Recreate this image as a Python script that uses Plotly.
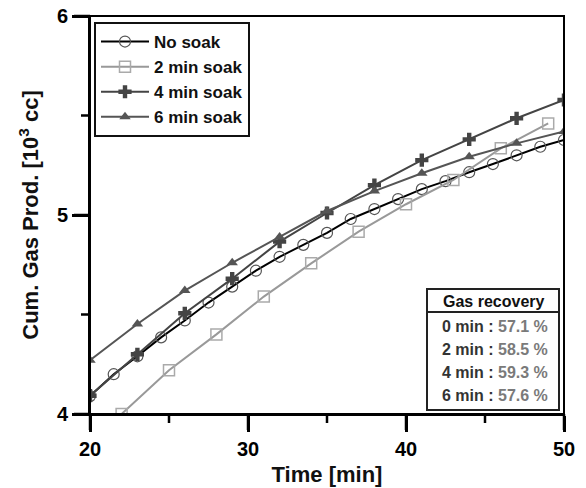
import plotly.graph_objects as go

# Cumulative gas production [10^3 cc] versus time [min]
t_no_soak = [20, 21.5, 23, 24.5, 26, 27.5, 29, 30.5, 32, 33.5, 35, 36.5, 38, 39.5,
             41, 42.5, 44, 45.5, 47, 48.5, 50]
g_no_soak = [4.09, 4.20, 4.29, 4.385, 4.47, 4.56, 4.64, 4.72, 4.79, 4.85, 4.91, 4.98,
             5.03, 5.08, 5.13, 5.17, 5.215, 5.256, 5.30, 5.343, 5.377]

t_2min = [22, 25, 28, 31, 34, 37, 40, 43, 46, 49]
g_2min = [4.00, 4.22, 4.40, 4.59, 4.757, 4.916, 5.054, 5.176, 5.335, 5.46]

t_4min = [20, 23, 26, 29, 32, 35, 38, 41, 44, 47, 50]
g_4min = [4.092, 4.30, 4.506, 4.68, 4.866, 5.01, 5.15, 5.276, 5.38, 5.486, 5.578]

t_6min = [20, 23, 26, 29, 32, 35, 38, 41, 44, 47, 50]
g_6min = [4.27, 4.452, 4.62, 4.76, 4.89, 5.02, 5.12, 5.21, 5.293, 5.36, 5.42]

# Gas recovery summary
recovery_labels = ["0 min", "2 min", "4 min", "6 min"]
recovery_pct = [57.1, 58.5, 59.3, 57.6]

# Axis ticks
x_range = [20, 50]
y_range = [4, 6]
x_major = [20, 30, 40, 50]
x_minor = [25, 35, 45]
y_major = [4, 5, 6]
y_minor = [4.5, 5.5]

FONT = "Liberation Sans, Arial, sans-serif"

# plot area in pixels: x 90..564, y 16..414
PW, PH = 474.0, 398.0
MAJOR_LEN, MINOR_LEN = 16, 9
TICK_W = 2.5

fig = go.Figure()

fig.add_trace(go.Scatter(
    x=t_no_soak, y=g_no_soak, name="No soak", mode="lines+markers",
    line=dict(color="#000000", width=2),
    marker=dict(symbol="circle-open", size=11, color="#555555", line=dict(width=1.2)),
    legendgroup="a"))
fig.add_trace(go.Scatter(
    x=t_2min, y=g_2min, name="2 min soak", mode="lines+markers",
    line=dict(color="#999999", width=2),
    marker=dict(symbol="square-open", size=11, color="#aaaaaa", line=dict(width=1.5)),
    legendgroup="b"))
fig.add_trace(go.Scatter(
    x=t_4min, y=g_4min, name="4 min soak", mode="lines+markers",
    line=dict(color="#444444", width=2),
    marker=dict(symbol="cross", size=11, color="#444444"),
    legendgroup="c"))
fig.add_trace(go.Scatter(
    x=t_6min, y=g_6min, name="6 min soak", mode="lines+markers",
    line=dict(color="#555555", width=2),
    marker=dict(symbol="triangle-up", size=10, color="#555555"),
    legendgroup="d"))

def px(x):
    return (x - 90) / PW

def py(y):
    return (414 - y) / PH

def fx(v):
    return (v - x_range[0]) / (x_range[1] - x_range[0])

def fy(v):
    return (v - y_range[0]) / (y_range[1] - y_range[0])

shapes = [
    # frame around the plot area
    dict(type="rect", xref="paper", yref="paper", x0=0, x1=1, y0=0, y1=1,
         line=dict(color="black", width=2), layer="above"),
]

# outward tick marks on the bottom and left axes
tick_line = dict(color="black", width=TICK_W)
for v, ln in [(v, MAJOR_LEN) for v in x_major] + [(v, MINOR_LEN) for v in x_minor]:
    shapes.append(dict(type="line", xref="paper", yref="paper",
                       x0=fx(v), x1=fx(v), y0=0, y1=-ln / PH, line=tick_line))
for v, ln in [(v, MAJOR_LEN) for v in y_major] + [(v, MINOR_LEN) for v in y_minor]:
    shapes.append(dict(type="line", xref="paper", yref="paper",
                       x0=0, x1=-ln / PW, y0=fy(v), y1=fy(v), line=tick_line))

# gas recovery table
shapes += [
    dict(type="rect", xref="paper", yref="paper",
         x0=px(427), x1=px(559), y0=py(410), y1=py(289),
         line=dict(color="#222222", width=2), fillcolor="white", layer="above"),
    dict(type="line", xref="paper", yref="paper",
         x0=px(427), x1=px(559), y0=py(312), y1=py(312),
         line=dict(color="#222222", width=2)),
]

BOX_FONT = dict(family=FONT, size=16, weight="bold")
annotations = [
    dict(xref="paper", yref="paper", x=px(494), y=py(301), showarrow=False,
         text="Gas recovery", font=dict(BOX_FONT, color="#111111"),
         xanchor="center", yanchor="middle"),
]
row_y = [326, 349, 372, 395]
for lab, pct, yy in zip(recovery_labels, recovery_pct, row_y):
    annotations.append(dict(
        xref="paper", yref="paper", x=px(495), y=py(yy), showarrow=False,
        text=f"<span style='color:#333333'>{lab} :</span> "
             f"<span style='color:#7a7a7a'>{pct:.1f} %</span>",
        font=dict(BOX_FONT, color="#333333"), xanchor="center", yanchor="middle"))

axis_common = dict(
    showline=True, linecolor="black", linewidth=2,
    ticks="outside", ticklen=MAJOR_LEN, tickwidth=TICK_W, tickcolor="black",
    showgrid=False, zeroline=False, automargin=False,
    tickfont=dict(family=FONT, size=20, color="#000000", weight="bold"),
)

fig.update_layout(
    width=586, height=488,
    margin=dict(l=90, r=22, t=16, b=74),
    paper_bgcolor="white", plot_bgcolor="white",
    font=dict(family=FONT),
    showlegend=True,
    legend=dict(
        x=px(94), y=py(22), xanchor="left", yanchor="top",
        bgcolor="white", bordercolor="#111111", borderwidth=2,
        font=dict(family=FONT, size=17, color="#111111", weight="bold"),
        traceorder="grouped", tracegroupgap=0, itemwidth=48,
    ),
    xaxis=dict(
        range=x_range, tickvals=x_major,
        title=dict(text="Time [min]",
                   font=dict(family=FONT, size=22, color="#111111", weight="bold"),
                   standoff=8),
        **axis_common),
    yaxis=dict(
        range=y_range, tickvals=y_major,
        title=dict(text="Cum. Gas Prod. [10<sup>3</sup> cc]",
                   font=dict(family=FONT, size=22, color="#111111", weight="bold"),
                   standoff=12),
        **axis_common),
    shapes=shapes,
    annotations=annotations,
)

fig.write_html("out.html")
